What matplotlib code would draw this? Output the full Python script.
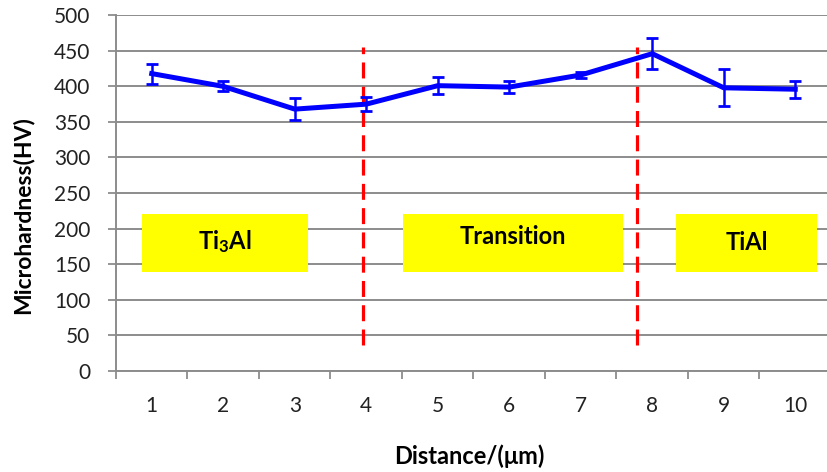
import matplotlib
matplotlib.use("Agg")
import matplotlib.pyplot as plt
from matplotlib.patches import Rectangle

plt.rcParams['font.family'] = ['Lato', 'DejaVu Sans']
plt.rcParams['mathtext.fontset'] = 'custom'
plt.rcParams['mathtext.bf'] = 'Lato:bold'
plt.rcParams['mathtext.rm'] = 'Lato'

# data
distance = [1, 2, 3, 4, 5, 6, 7, 8, 9, 10]
hardness = [418, 400, 368, 375, 401, 399, 416, 446, 398, 396]
errors = [14, 7, 16, 10, 12, 9, 4, 22, 26, 12]
y_ticks = [0, 50, 100, 150, 200, 250, 300, 350, 400, 450, 500]
boundaries = [3.96, 7.79]
region_labels = [r"$\mathbf{Ti_3Al}$", "Transition", "TiAl"]

W, H = 828, 472
fig = plt.figure(figsize=(W / 100, H / 100), dpi=100)
left, right, top, bottom = 116, 831, 15.3, 370.7
ax = fig.add_axes([left / W, 1 - bottom / H, (right - left) / W, (bottom - top) / H])

grid_c = '#8c8c8c'
ax.set_xlim(0.5, 10.5)
ax.set_ylim(0, 500)
ax.set_yticks(y_ticks)
ax.set_xticks([i + 0.5 for i in range(0, 11)], minor=False)
ax.set_xticklabels([])
ax.set_xticks(distance, minor=True)
ax.set_xticklabels([str(d) for d in distance], minor=True)
ax.tick_params(axis='x', which='minor', length=0, pad=18, labelsize=15, labelcolor='#222222')
ax.tick_params(axis='x', which='major', length=5.5, width=1.3, color=grid_c, direction='out')
ax.tick_params(axis='y', length=5.5, width=1.3, color=grid_c, pad=13, labelsize=15, labelcolor='#222222')
for s in ['top', 'right']:
    ax.spines[s].set_visible(False)
for s in ['left', 'bottom']:
    ax.spines[s].set_color(grid_c)
    ax.spines[s].set_linewidth(1.4)
ax.yaxis.grid(True, color=grid_c, linewidth=1.4)
ax.set_axisbelow(True)

# region boxes
box_specs = [(0.86, 3.19), (4.51, 7.59), (8.33, 10.31)]
label_y = [181, 189, 180]
for (x0, x1), lab, ly in zip(box_specs, region_labels, label_y):
    ax.add_patch(Rectangle((x0, 139), x1 - x0, 81, facecolor='#ffff00', edgecolor='none', zorder=2))
    ax.text((x0 + x1) / 2, ly, lab, ha='center', va='center', fontsize=17, fontweight='bold', zorder=3)

# dashed boundaries
for b in boundaries:
    ax.plot([b, b], [36, 456], color='#ff0000', lw=2.3, linestyle=(0, (5, 2.6)), zorder=4, clip_on=False)

ax.errorbar(distance, hardness, yerr=errors, color='#0000ff', lw=3.6, elinewidth=1.8,
            capsize=4, capthick=2, zorder=5)

fig.text(23 / W, 1 - 215 / H, 'Microhardness(HV)', rotation=90, ha='center', va='center',
         fontsize=16.5, fontweight='bold')
fig.text(469 / W, 1 - 456 / H, 'Distance/(μm)', ha='center', va='center', fontsize=17, fontweight='bold')

fig.savefig('out.png', dpi=100)
